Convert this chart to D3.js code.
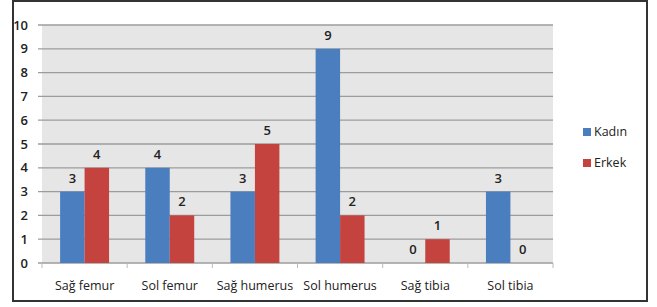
<!DOCTYPE html>
<html>
<head>
<meta charset="utf-8">
<script src="https://cdn.jsdelivr.net/npm/d3@7"></script>
<style>
  body { margin: 0; background: #fff; }
  svg text { font-family: "Open Sans", "Liberation Sans", sans-serif; fill: #222; }
</style>
</head>
<body>
<svg width="657" height="307"></svg>
<script>
// chart data
const categories = ["Sağ femur", "Sol femur", "Sağ humerus", "Sol humerus", "Sağ tibia", "Sol tibia"];
const kadin = [3, 4, 3, 9, 0, 3];
const erkek = [4, 2, 5, 2, 1, 0];
const seriesNames = ["Kadın", "Erkek"];
const yTicks = [0, 1, 2, 3, 4, 5, 6, 7, 8, 9, 10];

const colors = ["#4a7ebf", "#c4433f"];

var svg = d3.select("svg"),
    width = +svg.attr("width"),
    height = +svg.attr("height");

var margin = {left: 42, right: 104, top: 25, bottom: 44};
var plotW = width - margin.left - margin.right,
    plotH = height - margin.top - margin.bottom;

// outer frame
svg.append("rect")
    .attr("x", 13).attr("y", 1)
    .attr("width", 634).attr("height", 300)
    .attr("fill", "#fff")
    .attr("stroke", "#333").attr("stroke-width", 2);

var g = svg.append("g").attr("transform", `translate(${margin.left},${margin.top})`);

var x = d3.scaleBand().domain(categories).range([0, plotW]).paddingInner(0).paddingOuter(0);
var x1 = d3.scaleBand().domain(seriesNames).range([0, x.bandwidth()]).paddingInner(0).paddingOuter(0.74);
var y = d3.scaleLinear().domain([0, 10]).range([plotH, 0]);

// plot background
g.append("rect")
    .attr("width", plotW).attr("height", plotH)
    .attr("fill", "#e6e6e6");

// gridlines
g.selectAll(".grid")
    .data(yTicks)
    .enter().append("line")
    .attr("x1", -4).attr("x2", plotW)
    .attr("y1", d => y(d)).attr("y2", d => y(d))
    .attr("stroke", "#9c9c9c").attr("stroke-width", 1.3);

// y tick labels
g.selectAll(".ylab")
    .data(yTicks)
    .enter().append("text")
    .attr("x", -14).attr("y", d => y(d) + 4.5)
    .attr("text-anchor", "end")
    .style("font-size", "13px").style("font-weight", "600")
    .text(d => d);

// x axis tick marks
g.selectAll(".xtick")
    .data(d3.range(categories.length + 1))
    .enter().append("line")
    .attr("x1", i => i * x.step()).attr("x2", i => i * x.step())
    .attr("y1", plotH).attr("y2", plotH + 5)
    .attr("stroke", "#bbb");

// bars
var rows = categories.map((c, i) => ({cat: c, vals: [kadin[i], erkek[i]]}));
var groups = g.selectAll(".grp")
    .data(rows)
    .enter().append("g")
    .attr("transform", d => `translate(${x(d.cat)},0)`);

groups.selectAll("rect")
    .data(d => d.vals.map((v, j) => ({v: v, s: seriesNames[j], j: j})))
    .enter().append("rect")
    .attr("x", d => x1(d.s))
    .attr("y", d => y(d.v))
    .attr("width", x1.bandwidth())
    .attr("height", d => plotH - y(d.v))
    .attr("fill", d => colors[d.j]);

groups.selectAll("text")
    .data(d => d.vals.map((v, j) => ({v: v, s: seriesNames[j], j: j})))
    .enter().append("text")
    .attr("x", d => x1(d.s) + x1.bandwidth() / 2)
    .attr("y", d => y(d.v) - 9)
    .attr("text-anchor", "middle")
    .style("font-size", "13px").style("font-weight", "600")
    .text(d => d.v);

// category labels
g.selectAll(".xlab")
    .data(categories)
    .enter().append("text")
    .attr("x", d => x(d) + x.bandwidth() / 2)
    .attr("y", plotH + 27)
    .attr("text-anchor", "middle")
    .style("font-size", "12.5px")
    .text(d => d);

// legend
var legend = svg.selectAll(".legend")
    .data(seriesNames)
    .enter().append("g")
    .attr("transform", (d, i) => `translate(583,${128 + i * 31})`);

legend.append("rect")
    .attr("width", 8).attr("height", 8)
    .attr("fill", (d, i) => colors[i]);

legend.append("text")
    .attr("x", 11).attr("y", 8)
    .style("font-size", "12.5px")
    .text(d => d);
</script>
</body>
</html>
